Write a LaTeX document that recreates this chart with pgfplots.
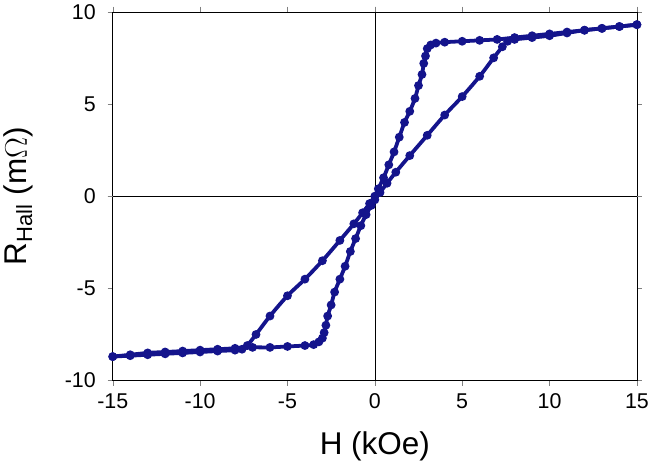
\documentclass[border=0pt]{standalone}
\usepackage{pgfplots}
\pgfplotsset{compat=1.18}
\usepackage{fontspec}
\setmainfont{Liberation Sans}
\definecolor{nv}{RGB}{20,20,140}
\begin{document}
\begin{tikzpicture}
\begin{axis}[scale only axis, width=415bp, height=292bp,
 xmin=-15, xmax=15, ymin=-10, ymax=10,
 xtick={-15,-10,...,15}, ytick={-10,-5,0,5,10},
 /pgf/number format/assume math mode=true,
 tick label style={font=\fontsize{17}{19}\selectfont},
 xticklabel style={yshift=-3pt}, yticklabel style={xshift=-6pt},
 label style={font=\fontsize{25}{29}\selectfont},
 xlabel={H (kOe)}, ylabel={R\textsubscript{Hall} (m$\Omega$)},
 ylabel style={yshift=10pt}, xlabel style={yshift=-3pt},
 extra x ticks={0}, extra x tick labels={}, extra x tick style={grid=major, major grid style={black, thin}},
 extra y ticks={0}, extra y tick labels={}, extra y tick style={grid=major, major grid style={black, thin}},
 tick align=outside, major tick length=4pt]
\addplot[nv, line width=3pt, mark=*, mark size=1.9pt, smooth] coordinates {
(15,9.3)(14,9.2)(13,9.1)(12,9.0)(11,8.9)(10,8.8)(9,8.7)(8,8.6)(7,8.5)(6,8.45)(5,8.4)(4,8.35)(3.5,8.3)(3.2,8.2)(3.0,8.0)(2.9,7.6)(2.8,7.2)(2.7,6.6)(2.5,6.0)(2.3,5.3)(2.0,4.6)(1.7,4.0)(1.4,3.2)(1.1,2.4)(0.8,1.7)(0.5,1.0)(0.2,0.4)(0,0)(-0.3,-0.4)(-0.7,-0.9)(-1.2,-1.5)(-2,-2.4)(-3,-3.5)(-4,-4.5)(-5,-5.4)(-6,-6.5)(-6.8,-7.5)(-7.3,-8.1)(-7.6,-8.3)(-8,-8.35)(-9,-8.4)(-10,-8.45)(-11,-8.5)(-12,-8.55)(-13,-8.6)(-14,-8.65)(-15,-8.7)};
\addplot[nv, line width=3pt, mark=*, mark size=1.9pt, smooth] coordinates {
(-15,-8.7)(-14,-8.6)(-13,-8.5)(-12,-8.45)(-11,-8.4)(-10,-8.35)(-9,-8.3)(-8,-8.25)(-7,-8.2)(-6,-8.2)(-5,-8.15)(-4,-8.1)(-3.5,-8.05)(-3.2,-7.9)(-3.0,-7.7)(-2.9,-7.4)(-2.8,-7.0)(-2.7,-6.5)(-2.5,-5.9)(-2.3,-5.2)(-2.0,-4.5)(-1.7,-3.8)(-1.4,-3.0)(-1.1,-2.3)(-0.8,-1.6)(-0.5,-1.0)(-0.2,-0.5)(0,-0.2)(0.3,0.2)(0.7,0.7)(1.2,1.3)(2,2.2)(3,3.3)(4,4.4)(5,5.4)(6,6.5)(6.8,7.5)(7.3,8.1)(7.6,8.4)(8,8.5)(9,8.6)(10,8.7)(11,8.85)(12,9.0)(13,9.1)(14,9.2)(15,9.3)};
\end{axis}
\end{tikzpicture}
\end{document}
